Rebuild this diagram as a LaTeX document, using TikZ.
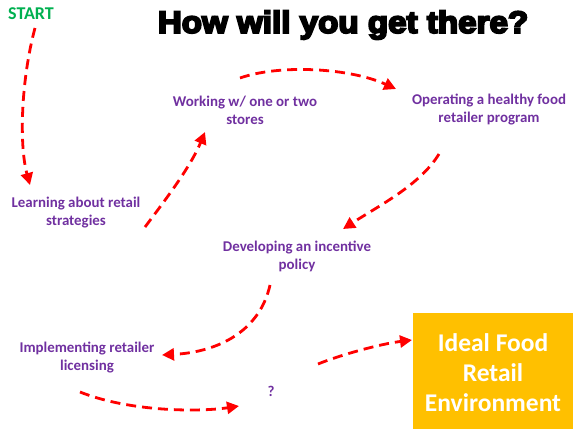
\documentclass[tikz,border=0pt]{standalone}
\usepackage{fontspec}
\setmainfont{Carlito}
\newfontfamily\titlefont{Liberation Sans}[BoldFeatures={FakeBold=6}]
\usetikzlibrary{arrows.meta}
\definecolor{stepcol}{HTML}{7030A0}
\definecolor{startcol}{HTML}{00B050}
\definecolor{goldcol}{HTML}{FFC000}
\definecolor{arrcol}{HTML}{FF0000}
\tikzset{
  steptext/.style={text=stepcol, font=\fontsize{14.9}{18}\selectfont\bfseries, align=center, inner sep=0pt},
  flow/.style={draw=arrcol, line width=2.8pt, dash pattern=on 10pt off 6pt,
    -{Triangle[length=12pt,width=12pt]}},
}
\begin{document}
\begin{tikzpicture}[x=1pt,y=-1pt]
\useasboundingbox (0,0) rectangle (573,429);
\node[text=startcol, font=\fontsize{18}{20}\selectfont\bfseries, inner sep=0pt] (start) at (31,14) {START};
\node[font=\titlefont\fontsize{31}{34}\selectfont\bfseries, inner sep=0pt, xscale=1.07] (title) at (343,25) {How will you get there?};
\node[steptext] (working) at (245,110) {Working w/ one or two\\stores};
\node[steptext] (operating) at (489,110) {Operating a healthy food\\retailer program};
\node[steptext] (learning) at (76,213) {Learning about retail\\strategies};
\node[steptext] (developing) at (297,256) {Developing an incentive\\policy};
\node[steptext] (implementing) at (87,358) {Implementing retailer\\licensing};
\node[steptext] (q) at (271,391) {?};
\node[fill=goldcol, minimum width=160pt, minimum height=116pt, inner sep=0pt] (goal) at (493,371) {};
\node[text=white, font=\fontsize{25.5}{30}\selectfont\bfseries, align=center, inner sep=0pt] (goaltext) at (493,373) {Ideal Food\\Retail\\Environment};
% connector ends
\coordinate (a1) at (35,28); \coordinate (b1) at (30,185);
\coordinate (a2) at (145,227); \coordinate (b2) at (205,132);
\coordinate (a3) at (240,78); \coordinate (b3) at (396,89);
\coordinate (a4) at (439,154); \coordinate (b4) at (343,229);
\coordinate (a5) at (270,285); \coordinate (b5) at (162,355);
\coordinate (a6) at (80,392); \coordinate (b6) at (239,406);
\coordinate (a7) at (318,364); \coordinate (b7) at (412,340);
\draw[flow] (a1) .. controls (21,80) and (19,145) .. (b1);
\draw[flow] (a2) .. controls (163,203) and (190,168) .. (b2);
\draw[flow] (a3) .. controls (280,64) and (350,68) .. (b3);
\draw[flow] (a4) .. controls (420,185) and (380,205) .. (b4);
\draw[flow] (a5) .. controls (260,330) and (220,352) .. (b5);
\draw[flow] (a6) .. controls (130,412) and (200,412) .. (b6);
\draw[flow] (a7) .. controls (340,355) and (380,344) .. (b7);
\end{tikzpicture}
\end{document}
